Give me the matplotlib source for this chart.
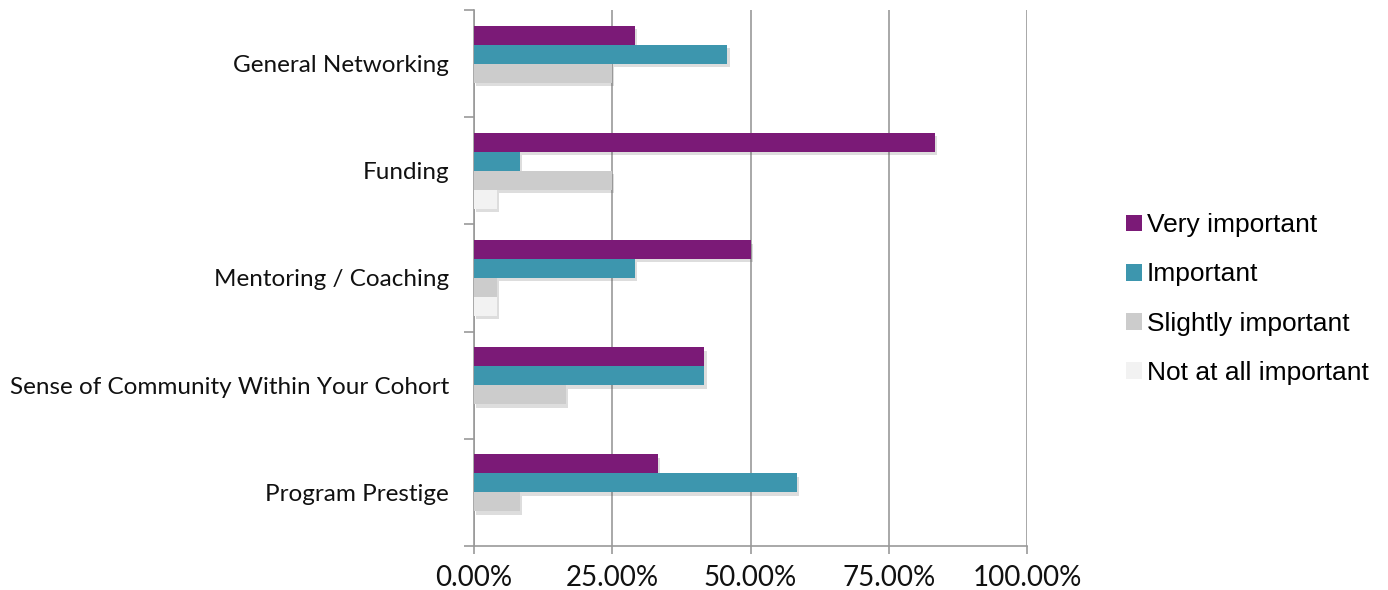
import matplotlib
matplotlib.use("Agg")
import matplotlib.pyplot as plt
import matplotlib.patheffects as pe
from matplotlib.patches import Patch
from matplotlib.ticker import FuncFormatter, FixedLocator

categories = ["General Networking", "Funding", "Mentoring / Coaching",
              "Sense of Community Within Your Cohort", "Program Prestige"]
series = ["Very important", "Important", "Slightly important", "Not at all important"]
very = [29.17, 83.33, 50.00, 41.67, 33.33]
important = [45.83, 8.33, 29.17, 41.67, 58.33]
slightly = [25.00, 25.00, 4.17, 16.67, 8.33]
not_at_all = [0.0, 4.17, 4.17, 0.0, 0.0]
values = [very, important, slightly, not_at_all]
colors = ["#7b1a77", "#3d96ae", "#cccccc", "#f2f2f2"]
x_ticks = [0, 25, 50, 75, 100]

fig = plt.figure(figsize=(13.88, 5.9), dpi=100)
ax = fig.add_axes([474 / 1388, 44 / 590, 553 / 1388, 536 / 590])

bar_h = 0.177
shadow = [pe.SimplePatchShadow(offset=(1.5, -2.5), alpha=0.2, shadow_rgbFace="#555555"), pe.Normal()]
for s, (vals, col) in enumerate(zip(values, colors)):
    ys = [i - 1.5 * bar_h + s * bar_h for i in range(len(categories))]
    bars = ax.barh(ys, vals, height=bar_h, color=col, edgecolor="none", zorder=3)
    for b, v in zip(bars, vals):
        if v > 0:
            b.set_path_effects(shadow)

ax.set_xlim(0, 100)
ax.set_ylim(len(categories) - 0.5, -0.5)

ax.xaxis.set_major_locator(FixedLocator(x_ticks))
ax.xaxis.set_major_formatter(FuncFormatter(lambda v, _: f"{v:.2f}%"))
ax.grid(axis="x", color="#999999", linewidth=1.2, zorder=0)
ax.tick_params(axis="x", length=6, width=1.2, color="#999999", pad=8,
               labelsize=20, labelcolor="#111111")
for lab in ax.get_xticklabels():
    lab.set_family("Lato")

ax.yaxis.set_major_locator(FixedLocator([i - 0.5 for i in range(len(categories) + 1)]))
ax.yaxis.set_major_formatter(FuncFormatter(lambda v, _: ""))
ax.set_yticks(range(len(categories)), minor=True)
ax.set_yticklabels(categories, minor=True, family="Lato", fontsize=17.5, color="#111111")
ax.tick_params(axis="y", which="major", length=7, width=1.2, color="#999999")
ax.tick_params(axis="y", which="minor", length=0, pad=18)

for side in ["top", "right"]:
    ax.spines[side].set_visible(False)
for side in ["left", "bottom"]:
    ax.spines[side].set_color("#999999")
    ax.spines[side].set_linewidth(1.2)

handles = [Patch(facecolor=c, edgecolor="none", label=l) for c, l in zip(colors, series)]
fig.legend(handles=handles, loc="center left", bbox_to_anchor=(1102 / 1388, 291 / 590),
           frameon=False, handlelength=0.6, handleheight=0.6, handletextpad=0.2,
           labelspacing=0.95, prop={"family": "Liberation Sans", "size": 19})

fig.savefig("out.png", dpi=100, facecolor="white")
